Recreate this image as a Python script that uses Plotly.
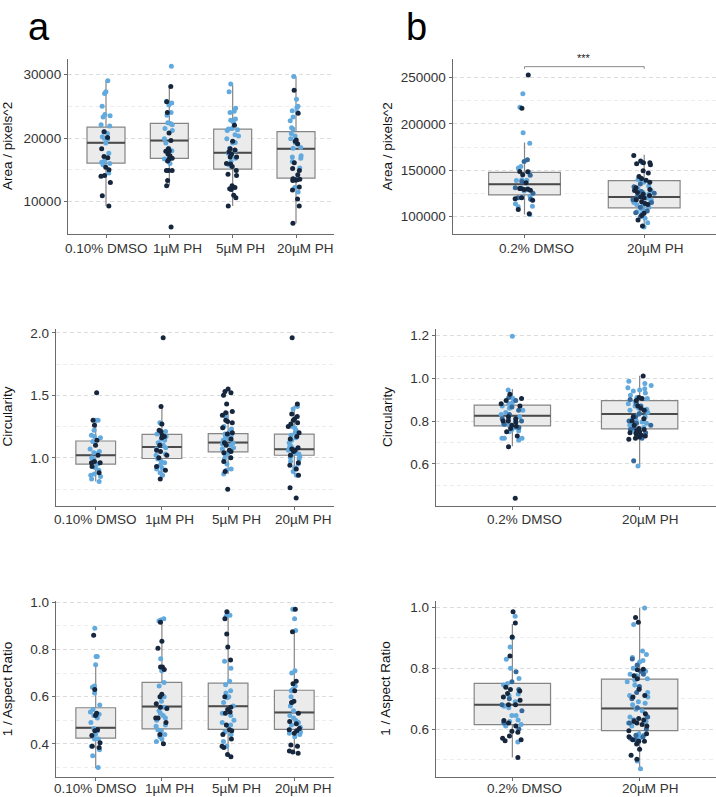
import plotly.graph_objects as go

# ---------------- categories ----------------
cats_a = ["0.10% DMSO", "1µM PH", "5µM PH", "20µM PH"]
cats_b = ["0.2% DMSO", "20µM PH"]

# ---------------- panel a : Area ----------------
area_a_light = [
    [29000, 27300, 27000, 25000, 23700, 23500, 23300, 22100, 21900, 21000, 20700, 20200, 19950, 19800, 19200, 17600, 16400, 16200, 16000, 15800, 14500],
    [31300, 25800, 25500, 25200, 24000, 23600, 22400, 22300, 22100, 21500, 21200, 19900, 19200, 18400, 18000, 18000, 16800, 16700, 16400, 16000],
    [28500, 27300, 24700, 24200, 24000, 23000, 22800, 22500, 21500, 21400, 21300, 21200, 20500, 20300, 19900, 19300, 19200, 18400, 18000, 17600, 17300, 16800, 16300, 15800, 15600, 12100],
    [29700, 26100, 25000, 24800, 24300, 24000, 23300, 22700, 21600, 21400, 20700, 20300, 19900, 19300, 19000, 18500, 18400, 17200, 17000, 16800, 16300, 15300, 13500, 12200, 11500],
]
area_a_dark = [
    [21000, 20100, 18300, 17100, 16900, 15400, 15000, 14100, 14000, 13000, 10900, 9300],
    [28100, 25700, 24000, 20800, 19600, 18300, 17900, 18000, 17500, 17200, 16800, 16700, 16400, 14900, 14900, 14900, 13300, 12500, 6000],
    [22000, 19500, 18300, 18100, 17800, 17500, 17000, 17000, 16000, 15900, 15500, 14900, 14300, 14100, 12500, 12200, 12000, 11900, 11000, 10600, 9300],
    [27500, 23900, 19700, 19500, 19100, 16100, 15200, 14900, 14200, 13600, 13500, 13500, 13400, 13400, 13300, 12300, 11800, 10400, 9300, 6600],
]
area_a_lo = [9300, 12500, 9300, 6600]
area_a_q1 = [16050, 16800, 15100, 13700]
area_a_med = [19250, 19600, 17700, 18300]
area_a_q3 = [21700, 22300, 21400, 21000]
area_a_hi = [29000, 28100, 28400, 29700]

# ---------------- panel a : Circularity ----------------
circ_a_light = [
    [1.30, 1.30, 1.22, 1.18, 1.17, 1.16, 1.13, 1.07, 1.05, 1.04, 1.03, 1.00, 0.99, 0.95, 0.92, 0.90, 0.87, 0.86, 0.85, 0.83, 0.81],
    [1.28, 1.27, 1.21, 1.19, 1.17, 1.15, 1.14, 1.12, 1.11, 1.10, 1.08, 1.07, 1.03, 1.02, 0.99, 0.97, 0.96, 0.94, 0.92, 0.91, 0.88, 0.86],
    [1.33, 1.25, 1.23, 1.21, 1.19, 1.18, 1.17, 1.16, 1.15, 1.14, 1.12, 1.11, 1.10, 1.08, 1.07, 1.05, 1.04, 1.02, 1.00, 0.99, 0.95, 0.91, 0.90, 0.87],
    [1.41, 1.39, 1.25, 1.24, 1.22, 1.20, 1.18, 1.16, 1.14, 1.12, 1.10, 1.09, 1.08, 1.07, 1.06, 1.05, 1.04, 1.03, 1.02, 1.01, 1.00, 0.99, 0.97, 0.95, 0.92, 0.89, 0.86],
]
circ_a_dark = [
    [1.52, 1.30, 1.26, 1.14, 1.10, 1.02, 0.97, 0.96, 0.96, 0.93, 0.88],
    [1.96, 1.41, 1.27, 1.22, 1.21, 1.18, 1.17, 1.16, 1.10, 1.06, 1.05, 1.02, 1.00, 0.93, 0.90, 0.83],
    [1.55, 1.53, 1.52, 1.50, 1.43, 1.37, 1.36, 1.34, 1.30, 1.29, 1.28, 1.24, 1.20, 1.19, 1.15, 1.12, 1.10, 1.06, 1.05, 1.04, 1.00, 0.97, 0.89, 0.75],
    [1.96, 1.43, 1.35, 1.33, 1.31, 1.30, 1.28, 1.27, 1.25, 1.20, 1.17, 1.15, 1.08, 1.07, 1.06, 1.05, 1.02, 0.96, 0.94, 0.91, 0.86, 0.76, 0.68],
]
circ_a_lo = [0.81, 0.83, 0.87, 0.865]
circ_a_q1 = [0.950, 0.995, 1.048, 1.021]
circ_a_med = [1.021, 1.087, 1.122, 1.069]
circ_a_q3 = [1.135, 1.188, 1.193, 1.190]
circ_a_hi = [1.30, 1.41, 1.37, 1.418]

# ---------------- panel a : 1 / Aspect Ratio ----------------
iar_a_light = [
    [0.89, 0.77, 0.77, 0.735, 0.645, 0.64, 0.615, 0.565, 0.545, 0.535, 0.525, 0.52, 0.51, 0.49, 0.465, 0.455, 0.44, 0.42, 0.42, 0.39, 0.375, 0.35, 0.30],
    [0.93, 0.925, 0.92, 0.76, 0.71, 0.66, 0.645, 0.60, 0.58, 0.555, 0.54, 0.53, 0.52, 0.51, 0.50, 0.48, 0.475, 0.46, 0.455, 0.44, 0.43, 0.42, 0.41],
    [0.955, 0.945, 0.94, 0.75, 0.72, 0.665, 0.65, 0.625, 0.615, 0.60, 0.595, 0.575, 0.56, 0.53, 0.52, 0.50, 0.49, 0.48, 0.475, 0.45, 0.44, 0.41, 0.39],
    [0.97, 0.97, 0.93, 0.88, 0.71, 0.70, 0.645, 0.63, 0.625, 0.60, 0.575, 0.56, 0.54, 0.52, 0.51, 0.50, 0.49, 0.48, 0.47, 0.46, 0.45, 0.445, 0.44, 0.43],
]
iar_a_dark = [
    [0.86, 0.63, 0.53, 0.52, 0.46, 0.455, 0.435, 0.405, 0.39, 0.385],
    [0.915, 0.835, 0.805, 0.725, 0.725, 0.715, 0.61, 0.60, 0.57, 0.555, 0.55, 0.51, 0.51, 0.49, 0.44, 0.40],
    [0.96, 0.93, 0.865, 0.81, 0.755, 0.60, 0.555, 0.545, 0.535, 0.53, 0.48, 0.46, 0.455, 0.44, 0.42, 0.39, 0.385, 0.355, 0.345],
    [0.97, 0.875, 0.665, 0.655, 0.625, 0.58, 0.575, 0.53, 0.495, 0.485, 0.465, 0.46, 0.455, 0.445, 0.395, 0.39, 0.37, 0.365, 0.36],
]
iar_a_lo = [0.297, 0.403, 0.344, 0.361]
iar_a_q1 = [0.424, 0.463, 0.461, 0.461]
iar_a_med = [0.468, 0.558, 0.559, 0.533]
iar_a_q3 = [0.553, 0.660, 0.657, 0.627]
iar_a_hi = [0.735, 0.925, 0.936, 0.877]

# ---------------- panel b : Area ----------------
area_b_dark = [
    [253000, 217000, 148300, 148700, 145100, 136300, 130100, 129000, 128300, 129500, 130100, 120100, 119000, 117600, 107600, 103000],
    [166000, 160000, 158000, 158000, 157000, 156000, 149500, 147000, 143300, 141000, 139000, 137000, 131000, 129000, 128000, 126000, 124000, 122500, 121000, 120000, 118000, 116000, 114000, 113000, 103500, 101000, 96000, 89600],
]
area_b_mid = [
    [161200, 159400, 144400, 137900, 130900, 125000, 120100, 118500],
    [135000, 132000, 127000, 125000, 121000, 118000, 115000, 110000, 106000, 104000, 100000],
]
area_b_light = [
    [232800, 218100, 190600, 179100, 154100, 152300, 148000, 139700, 139000, 138800, 129800, 131000, 127500, 121900, 120500, 113600, 111100, 110400, 102200],
    [158500, 140000, 139000, 137000, 133000, 130000, 128000, 126000, 124000, 123000, 122000, 120000, 118000, 117000, 116000, 115000, 113000, 112000, 110000, 108000, 106000, 105000, 103000, 98000, 93200, 88600],
]
area_b_lo = [102200, 89000]
area_b_q1 = [123300, 109300]
area_b_med = [134700, 121100]
area_b_q3 = [147600, 138700]
area_b_hi = [180000, 166600]

# ---------------- panel b : Circularity ----------------
circ_b_dark = [
    [0.925, 0.905, 0.895, 0.88, 0.87, 0.82, 0.81, 0.80, 0.80, 0.795, 0.78, 0.775, 0.765, 0.75, 0.73, 0.68, 0.44],
    [1.01, 0.91, 0.905, 0.895, 0.87, 0.86, 0.85, 0.82, 0.81, 0.80, 0.78, 0.765, 0.76, 0.755, 0.75, 0.745, 0.74, 0.735, 0.73, 0.725, 0.72, 0.715],
]
circ_b_mid = [
    [0.91, 0.895, 0.865, 0.85, 0.83, 0.81, 0.80, 0.785, 0.77],
    [0.90, 0.88, 0.87, 0.85, 0.835, 0.82, 0.80, 0.79, 0.78, 0.77, 0.76, 0.745, 0.74, 0.72, 0.615],
]
circ_b_light = [
    [1.195, 0.945, 0.915, 0.905, 0.895, 0.885, 0.88, 0.87, 0.86, 0.85, 0.84, 0.83, 0.82, 0.81, 0.80, 0.785, 0.78, 0.77, 0.76, 0.755, 0.75, 0.72, 0.72, 0.72, 0.71],
    [0.985, 0.975, 0.965, 0.955, 0.95, 0.945, 0.94, 0.93, 0.92, 0.91, 0.905, 0.89, 0.88, 0.87, 0.86, 0.855, 0.85, 0.84, 0.83, 0.82, 0.81, 0.80, 0.795, 0.79, 0.78, 0.77, 0.76, 0.75, 0.74, 0.73, 0.59],
]
circ_b_lo = [0.682, 0.592]
circ_b_q1 = [0.777, 0.763]
circ_b_med = [0.825, 0.833]
circ_b_q3 = [0.874, 0.895]
circ_b_hi = [0.949, 1.011]

# ---------------- panel b : 1 / Aspect Ratio ----------------
iar_b_dark = [
    [0.985, 0.948, 0.902, 0.84, 0.737, 0.73, 0.725, 0.717, 0.705, 0.695, 0.68, 0.68, 0.628, 0.62, 0.61, 0.593, 0.59, 0.577, 0.57, 0.565, 0.562, 0.507],
    [0.966, 0.951, 0.796, 0.795, 0.775, 0.765, 0.731, 0.71, 0.705, 0.65, 0.635, 0.63, 0.625, 0.62, 0.615, 0.61, 0.595, 0.585, 0.575, 0.565, 0.56, 0.56, 0.551, 0.534, 0.514, 0.501],
]
iar_b_mid = [
    [0.788, 0.755, 0.73, 0.70, 0.68, 0.66, 0.62, 0.60],
    [0.83, 0.81, 0.79, 0.78, 0.74, 0.72, 0.70, 0.67, 0.64, 0.63, 0.62, 0.60, 0.58, 0.575, 0.57, 0.565],
]
iar_b_light = [
    [0.97, 0.90, 0.869, 0.829, 0.80, 0.766, 0.75, 0.745, 0.715, 0.71, 0.69, 0.675, 0.67, 0.645, 0.645, 0.63, 0.625, 0.62, 0.615, 0.61, 0.558],
    [0.997, 0.943, 0.856, 0.845, 0.835, 0.825, 0.82, 0.80, 0.79, 0.78, 0.775, 0.765, 0.76, 0.755, 0.745, 0.73, 0.72, 0.71, 0.705, 0.69, 0.685, 0.68, 0.665, 0.66, 0.645, 0.64, 0.625, 0.62, 0.61, 0.585, 0.58, 0.575, 0.57, 0.565, 0.495, 0.47],
]
iar_b_lo = [0.507, 0.468]
iar_b_q1 = [0.615, 0.595]
iar_b_med = [0.680, 0.668]
iar_b_q3 = [0.750, 0.764]
iar_b_hi = [0.945, 0.997]

# axis titles / labels
y_titles = ["Area / pixels^2", "Circularity", "1 / Aspect Ratio"]
panel_letters = ["a", "b"]
signif_text = "***"

# ---------------- styles ----------------
C_DARK = "#15263d"
C_MID = "#35699a"
C_LIGHT = "#62a9de"
FONT = "Liberation Sans, Arial, Helvetica, sans-serif"
W, H = 716, 797
LABEL_SHIFT_A = [0, 8, 8, 9]
LABEL_SHIFT_B = [12, 11]

fig = go.Figure()


def add_panel(ax, cats, lo, q1, med, q3, hi, groups, shifts, label_dy):
    xa, ya = "x" + ax, "y" + ax
    fig.add_trace(go.Box(
        x=cats, lowerfence=lo, q1=q1, median=med, q3=q3, upperfence=hi,
        boxpoints=False, width=0.6, whiskerwidth=0, fillcolor="#ebebeb",
        line=dict(color="#858585", width=1.2), xaxis=xa, yaxis=ya,
        hoverinfo="skip", showlegend=False))
    fig.add_trace(go.Box(
        x=cats, lowerfence=med, q1=med, median=med, q3=med, upperfence=med,
        boxpoints=False, width=0.6, whiskerwidth=0, fillcolor="rgba(0,0,0,0)",
        line=dict(color="#4a4a4a", width=2), xaxis=xa, yaxis=ya,
        hoverinfo="skip", showlegend=False))
    for vals_by_cat, color in groups:
        xs, ys = [], []
        for c, vals in zip(cats, vals_by_cat):
            xs += [c] * len(vals)
            ys += vals
        fig.add_trace(go.Box(
            x=xs, y=ys, boxpoints="all", jitter=0.33, pointpos=0, width=0.6,
            whiskerwidth=0,
            fillcolor="rgba(0,0,0,0)", line=dict(width=0, color="rgba(0,0,0,0)"),
            marker=dict(color=color, size=5, line=dict(width=0)),
            xaxis=xa, yaxis=ya, hoverinfo="skip", showlegend=False))
    # category labels under the axis
    for c, s in zip(cats, shifts):
        fig.add_annotation(xref=xa, yref=ya + " domain", x=c, y=0, text=c,
                           showarrow=False, xanchor="center", yanchor="middle",
                           xshift=s, yshift=label_dy, borderpad=0,
                           font=dict(family=FONT, size=13.5, color="#333333"))


add_panel("", cats_a, area_a_lo, area_a_q1, area_a_med, area_a_q3, area_a_hi,
          [(area_a_light, C_LIGHT), (area_a_dark, C_DARK)], LABEL_SHIFT_A, -14)
add_panel("2", cats_a, circ_a_lo, circ_a_q1, circ_a_med, circ_a_q3, circ_a_hi,
          [(circ_a_light, C_LIGHT), (circ_a_dark, C_DARK)], LABEL_SHIFT_A, -14)
add_panel("3", cats_a, iar_a_lo, iar_a_q1, iar_a_med, iar_a_q3, iar_a_hi,
          [(iar_a_light, C_LIGHT), (iar_a_dark, C_DARK)], LABEL_SHIFT_A, -12)
add_panel("4", cats_b, area_b_lo, area_b_q1, area_b_med, area_b_q3, area_b_hi,
          [(area_b_light, C_LIGHT), (area_b_mid, C_MID), (area_b_dark, C_DARK)], LABEL_SHIFT_B, -14)
add_panel("5", cats_b, circ_b_lo, circ_b_q1, circ_b_med, circ_b_q3, circ_b_hi,
          [(circ_b_light, C_LIGHT), (circ_b_mid, C_MID), (circ_b_dark, C_DARK)], LABEL_SHIFT_B, -14)
add_panel("6", cats_b, iar_b_lo, iar_b_q1, iar_b_med, iar_b_q3, iar_b_hi,
          [(iar_b_light, C_LIGHT), (iar_b_mid, C_MID), (iar_b_dark, C_DARK)], LABEL_SHIFT_B, -12)


def px_x(a, b):
    return [a / W, b / W]


def px_y(top, bottom):
    return [1 - bottom / H, 1 - top / H]


def xaxis(dom, cats):
    return dict(domain=dom, type="category", categoryorder="array", categoryarray=cats,
                range=[-0.6, len(cats) - 0.4], showline=True, linecolor="#6b6b6b",
                linewidth=1.3, ticks="outside", ticklen=3, tickcolor="#6b6b6b",
                showticklabels=False, showgrid=False, zeroline=False, fixedrange=True)


def yaxis(dom, rng, dtick, fmt, anchor):
    return dict(domain=dom, range=rng, tickmode="linear", tick0=0, dtick=dtick,
                tickformat=fmt, showline=True, linecolor="#6b6b6b", linewidth=1.3,
                ticks="outside", ticklen=3, tickcolor="#6b6b6b", zeroline=False,
                showgrid=True, gridcolor="#dcdcdc", gridwidth=1, griddash="4px,3px",
                minor=dict(dtick=dtick / 2, tick0=0, showgrid=True, gridcolor="#ededed",
                           gridwidth=1, griddash="4px,3px", ticks=""),
                tickfont=dict(family=FONT, size=13.5, color="#333333"),
                anchor=anchor, fixedrange=True)


row1 = px_y(53, 230)
row2 = px_y(325, 503.3)
row3 = px_y(599.3, 776.5)

fig.update_layout(
    width=W, height=H, autosize=False,
    margin=dict(l=0, r=0, t=0, b=0),
    paper_bgcolor="white", plot_bgcolor="white",
    boxmode="overlay", showlegend=False,
    font=dict(family=FONT, color="#111111"),
    xaxis=dict(xaxis(px_x(68, 334), cats_a), anchor="y"),
    yaxis=yaxis(row1, [4850, 32500], 10000, "d", "x"),
    xaxis2=dict(xaxis(px_x(56, 334), cats_a), anchor="y2"),
    yaxis2=yaxis(row2, [0.619, 2.034], 0.5, ".1f", "x2"),
    xaxis3=dict(xaxis(px_x(56, 334), cats_a), anchor="y3"),
    yaxis3=yaxis(row3, [0.261, 1.006], 0.2, ".1f", "x3"),
    xaxis4=dict(xaxis(px_x(452.7, 716), cats_b), anchor="y4"),
    yaxis4=yaxis(row1, [80700, 270700], 50000, "d", "x4"),
    xaxis5=dict(xaxis(px_x(436, 716), cats_b), anchor="y5"),
    yaxis5=yaxis(row2, [0.406, 1.231], 0.2, ".1f", "x5"),
    xaxis6=dict(xaxis(px_x(436, 716), cats_b), anchor="y6"),
    yaxis6=yaxis(row3, [0.444, 1.021], 0.2, ".1f", "x6"),
)

# significance bracket (panel b, area)
br_y, br_drop = 262000, 259600
for x0, y0, x1, y1 in [(cats_b[0], br_y, cats_b[1], br_y),
                       (cats_b[0], br_y, cats_b[0], br_drop),
                       (cats_b[1], br_y, cats_b[1], br_drop)]:
    fig.add_shape(type="line", xref="x4", yref="y4", x0=x0, y0=y0, x1=x1, y1=y1,
                  line=dict(color="#8a8a8a", width=1))
fig.add_annotation(xref="x4", yref="y4", x=0.5, y=br_y, text=signif_text,
                   showarrow=False, yanchor="bottom", yshift=1,
                   font=dict(family=FONT, size=11, color="#222222"))

# y-axis titles
for (xc, yc, t) in [(7.5, (53 + 230) / 2, y_titles[0]), (7.5, (325 + 503.3) / 2, y_titles[1]),
                    (7.5, (599.3 + 776.5) / 2, y_titles[2]),
                    (387, (53 + 230) / 2, y_titles[0]), (387, (325 + 503.3) / 2, y_titles[1]),
                    (386, (599.3 + 776.5) / 2, y_titles[2])]:
    fig.add_annotation(xref="paper", yref="paper", x=xc / W, y=1 - yc / H, text=t,
                       textangle=-90, showarrow=False, xanchor="center", yanchor="middle",
                       font=dict(family=FONT, size=13.5, color="#111111"))

# panel letters
for xc, t in [(39, panel_letters[0]), (416, panel_letters[1])]:
    fig.add_annotation(xref="paper", yref="paper", x=xc / W, y=1, text=t,
                       showarrow=False, xanchor="center", yanchor="top", yshift=1,
                       borderpad=0, font=dict(family=FONT, size=38, color="#000000"))

fig.write_html("out.html", config={"displayModeBar": False},
               post_script="document.body.style.margin='0px';document.body.style.overflow='hidden';")
